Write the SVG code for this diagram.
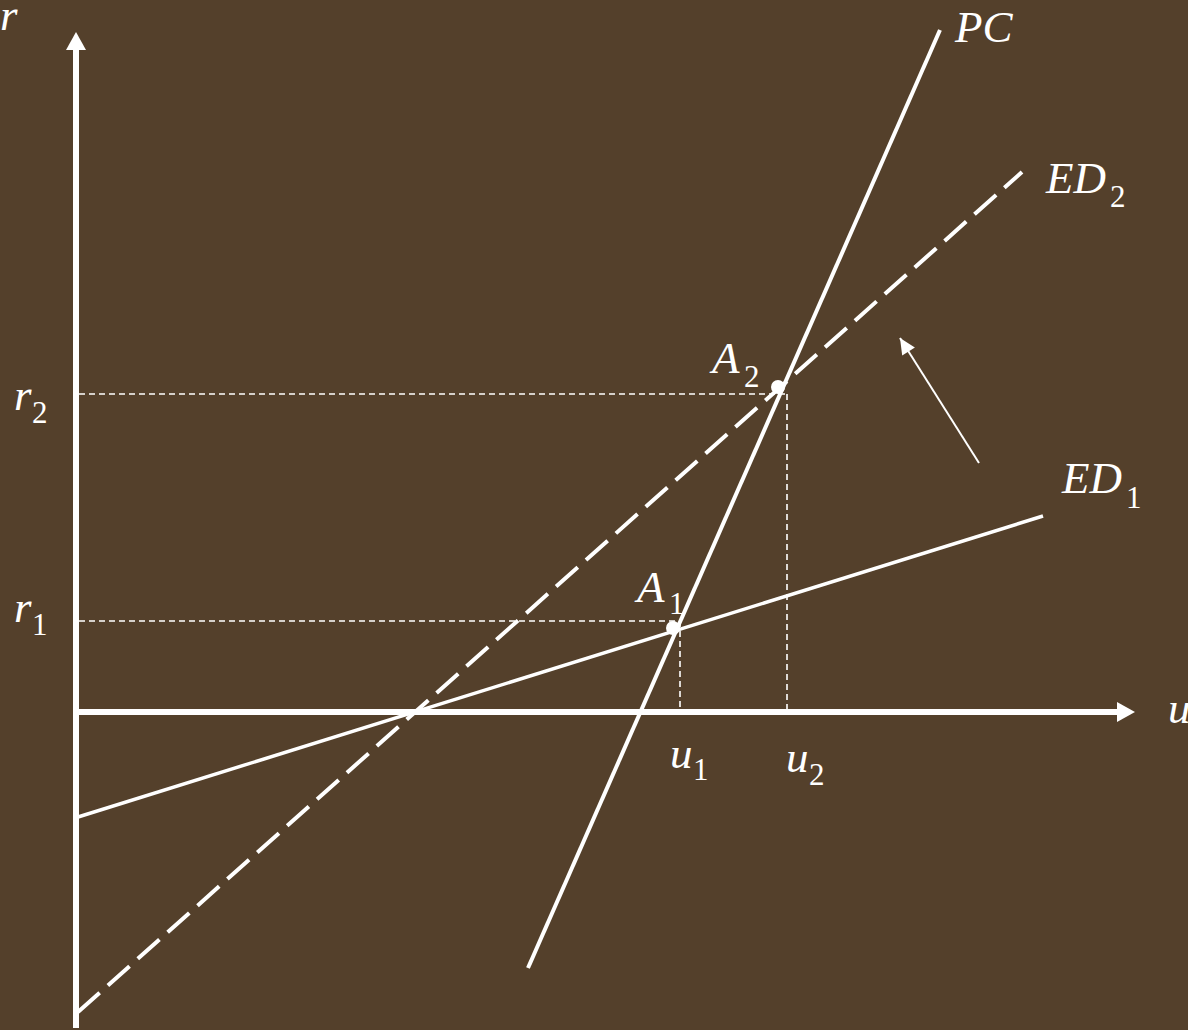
<svg xmlns="http://www.w3.org/2000/svg" width="1188" height="1030" viewBox="0 0 1188 1030">
<defs>
<style>
.lbl{font-family:"Liberation Serif","Times New Roman",serif;font-style:italic;font-size:45px;fill:#fff}
.sub{font-family:"Liberation Serif","Times New Roman",serif;font-style:normal;font-size:31px;fill:#fff}
.ax{stroke:#fff;stroke-width:6;fill:none}
.ln{stroke:#fff;fill:none}
.guide{stroke:#fff;stroke-width:1.6;stroke-dasharray:6 4;fill:none}
</style>
<marker id="ah2" markerWidth="20" markerHeight="20" refX="0" refY="0" viewBox="-20 -10 20 20" orient="auto" markerUnits="userSpaceOnUse">
<path d="M-16,-7.5 L0,0 L-16,7.5 Z" fill="#fff"/>
</marker>
</defs>
<rect width="1188" height="1030" fill="#54402b"/>
<g id="connectors">
<line class="ax" x1="76" y1="1028" x2="76" y2="49"/>
<path d="M66,50 L76,32 L86,50 Z" fill="#fff"/>
<line class="ax" x1="73" y1="712" x2="1118" y2="712"/>
<path d="M1117,702 L1135,712 L1117,722 Z" fill="#fff"/>
<line class="guide" x1="79" y1="394" x2="787" y2="394"/>
<line class="guide" x1="787" y1="394" x2="787" y2="709"/>
<line class="guide" x1="79" y1="621" x2="680" y2="621"/>
<line class="guide" x1="680" y1="621" x2="680" y2="709"/>
<line id="ED2" class="ln" x1="78" y1="1012" x2="1022" y2="172" stroke-width="4" stroke-dasharray="29 11"/>
<line id="ED1" class="ln" x1="78" y1="817" x2="1043" y2="516" stroke-width="3.5"/>
<line id="PC" class="ln" x1="528" y1="968" x2="940" y2="30" stroke-width="4"/>
<line id="shift" class="ln" x1="979" y1="463" x2="900" y2="338" stroke-width="2" marker-end="url(#ah2)"/>
</g>
<g id="A2"><circle cx="778" cy="387" r="7" fill="#fff"/><text class="lbl" x="712" y="373">A</text><text class="sub" x="744" y="387">2</text></g>
<g id="A1"><circle cx="673" cy="628" r="7" fill="#fff"/><text class="lbl" x="637" y="602">A</text><text class="sub" x="669" y="614">1</text></g>
<g id="label-r"><text class="lbl" x="0" y="30">r</text></g>
<g id="label-u"><text class="lbl" x="1168" y="723">u</text></g>
<g id="label-PC"><text class="lbl" x="955" y="42">PC</text></g>
<g id="label-ED2"><text class="lbl" x="1046" y="193">ED</text><text class="sub" x="1110" y="207">2</text></g>
<g id="label-ED1"><text class="lbl" x="1062" y="493">ED</text><text class="sub" x="1126" y="508">1</text></g>
<g id="label-r2"><text class="lbl" x="14" y="410">r</text><text class="sub" x="32" y="423">2</text></g>
<g id="label-r1"><text class="lbl" x="14" y="622">r</text><text class="sub" x="32" y="635">1</text></g>
<g id="label-u1"><text class="lbl" x="670" y="768">u</text><text class="sub" x="693" y="780">1</text></g>
<g id="label-u2"><text class="lbl" x="786" y="772">u</text><text class="sub" x="809" y="785">2</text></g>
</svg>
